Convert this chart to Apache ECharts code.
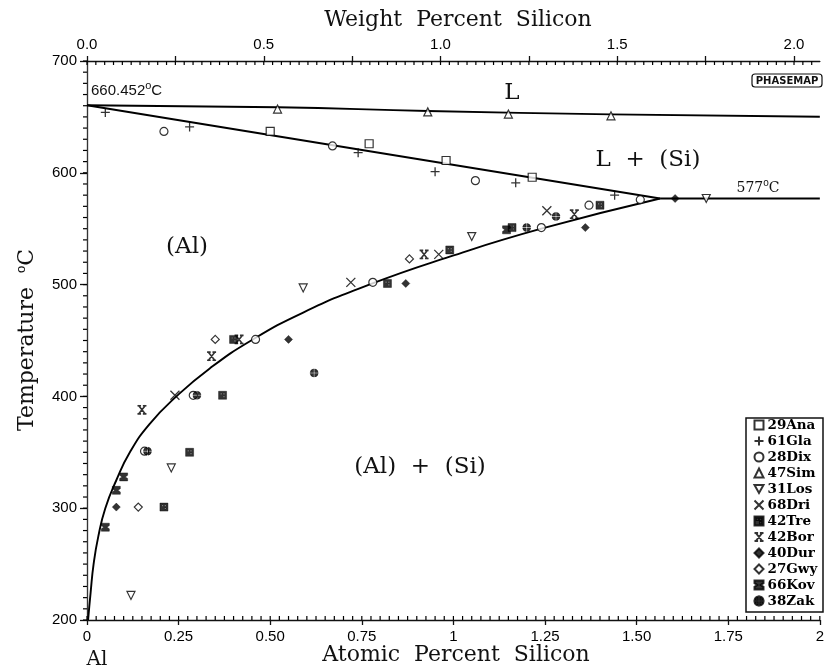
<!DOCTYPE html>
<html>
<head>
<meta charset="utf-8">
<script src="https://cdn.jsdelivr.net/npm/echarts@6/dist/echarts.min.js"></script>
<style>
  html, body { margin: 0; padding: 0; background: #fff; }
  #chart { width: 827px; height: 667px; }
</style>
</head>
<body>
<div id="chart"></div>
<script>
// phase boundaries, [at.% Si, T in C]
const liquidusTop = [[0, 660.452], [0.52, 658.6], [0.93, 655.3], [1.43, 652.3], [2, 650.2]];
const liquidusLow = [[0, 660.452], [1.564, 577]];
const eutectic = [[1.564, 577], [2, 577]];
const solvus = [[0.003, 200], [0.01, 225], [0.018, 250], [0.031, 275], [0.05, 300], [0.08, 325],
  [0.117, 350], [0.17, 375], [0.244, 400], [0.335, 425], [0.448, 450], [0.59, 475],
  [0.77, 500], [0.99, 525], [1.24, 550], [1.564, 577]];

// measurements
const ana29 = [[0.50, 637], [0.77, 626], [0.98, 611], [1.215, 596]];
const gla61 = [[0.05, 654], [0.28, 641], [0.74, 618], [0.95, 601], [1.17, 591], [1.44, 580]];
const dix28 = [[0.21, 637], [0.67, 624], [1.06, 593], [0.29, 401], [0.157, 351], [0.46, 451],
  [0.78, 502], [1.24, 551], [1.37, 571], [1.51, 576]];
const sim47 = [[0.52, 657], [0.93, 654.5], [1.15, 652.5], [1.43, 651]];
const los31 = [[0.12, 222], [0.23, 336], [0.59, 497], [1.05, 543], [1.69, 577]];
const dri68 = [[0.24, 401], [0.72, 502], [0.96, 527], [1.255, 566]];
const tre42 = [[0.21, 301], [0.28, 350], [0.37, 401], [0.40, 451], [0.82, 501], [0.99, 531],
  [1.16, 551], [1.40, 571]];
const bor42 = [[0.15, 388], [0.34, 436], [0.415, 451], [0.92, 527], [1.33, 563]];
const dur40 = [[0.08, 301], [0.55, 451], [0.87, 501], [1.36, 551], [1.605, 577]];
const gwy27 = [[0.14, 301], [0.35, 451], [0.88, 523]];
const kov66 = [[0.05, 283], [0.08, 316], [0.10, 328], [1.145, 549]];
const zak38 = [[0.165, 351], [0.30, 401], [0.62, 421], [1.20, 551], [1.28, 561]];

const bottomLabels = { 0: '0', 0.25: '0.25', 0.5: '0.50', 0.75: '0.75', 1: '1', 1.25: '1.25', 1.5: '1.50', 1.75: '1.75', 2: '2' };

const serif = '"DejaVu Serif", serif';
const sans = '"Liberation Sans", Arial, sans-serif';

// fine tick positions (axis decoration only)
const atTicks = [], wtTicks = [], tTicks = [];
for (let i = 0; i <= 80; i++) atTicks.push([i * 0.025, 200]);
for (let i = 0; i <= 82; i++) wtTicks.push([i * 0.025, 700]);
for (let i = 0; i <= 50; i++) tTicks.push([0, 200 + i * 10]);

const chart = echarts.init(document.getElementById('chart'));

const open = { color: '#fff', borderColor: '#000', borderWidth: 1.2 };
const solid = { color: '#000', borderColor: '#000', borderWidth: 0.5 };
const stroke = { color: 'none', borderColor: '#000', borderWidth: 1.3 };

function pts(name, data, symbol, style, size) {
  return {
    name: name, type: 'scatter', data: data, symbol: symbol,
    symbolSize: size || 8, itemStyle: style, z: 5,
    xAxisIndex: 0, yAxisIndex: 0
  };
}

function curve(data, smooth) {
  return {
    type: 'line', data: data, showSymbol: false, smooth: smooth || false,
    lineStyle: { color: '#000', width: 1.9 }, silent: true, z: 3,
    xAxisIndex: 0, yAxisIndex: 0
  };
}

// short tick strokes placed through the axis scales
function ticks(data, xAxisIndex, dx, dy) {
  return {
    type: 'custom', data: data, xAxisIndex: xAxisIndex, yAxisIndex: 0, silent: true, clip: false, z: 2,
    renderItem: (params, api) => {
      const p = api.coord([api.value(0), api.value(1)]);
      return {
        type: 'line',
        shape: { x1: p[0], y1: p[1], x2: p[0] + dx, y2: p[1] + dy },
        style: { stroke: '#000', lineWidth: 1.2 }
      };
    }
  };
}

const labelTxt = (text, x, y, font, align) => ({
  type: 'text', x: x, y: y,
  style: { text: text, font: font, fill: '#111', align: align || 'center', verticalAlign: 'middle' }
});

const supRich = (size) => ({
  s: { fontSize: size, fontFamily: sans, padding: [0, 0, size - 1, 0], fill: '#111' }
});

const option = {
  animation: false,
  backgroundColor: '#fff',
  grid: { left: 87, right: 1, top: 61, bottom: 47 },
  xAxis: [
    {
      type: 'value', position: 'bottom', min: 0, max: 2, interval: 0.25,
      axisLine: { lineStyle: { color: '#111', width: 1.3 } },
      axisTick: { inside: false, length: 5, lineStyle: { color: '#111', width: 1.3 } },
      axisLabel: {
        margin: 9, color: '#000', fontSize: 15, fontFamily: sans,
        formatter: v => bottomLabels[v] !== undefined ? bottomLabels[v] : ''
      },
      splitLine: { show: false }
    },
    {
      type: 'value', position: 'top', min: 0, max: 2.073, interval: 0.25,
      axisLine: { lineStyle: { color: '#111', width: 1.3 } },
      axisTick: { inside: false, length: 5, lineStyle: { color: '#111', width: 1.3 } },
      axisLabel: {
        margin: 9, color: '#000', fontSize: 15, fontFamily: sans, showMaxLabel: false,
        formatter: v => Math.abs(v * 2 - Math.round(v * 2)) < 1e-6 ? v.toFixed(1) : ''
      },
      splitLine: { show: false }
    }
  ],
  yAxis: [
    {
      type: 'value', position: 'left', min: 200, max: 700, interval: 100,
      axisLine: { show: true, lineStyle: { color: '#111', width: 1.3 } },
      axisTick: { show: true, length: 7, lineStyle: { color: '#111', width: 1.3 } },
      axisLabel: { margin: 10, color: '#000', fontSize: 15, fontFamily: sans },
      splitLine: { show: false }
    },
    {
      type: 'value', position: 'right', min: 200, max: 700,
      axisLine: { show: true, lineStyle: { color: '#333', width: 1 } },
      axisTick: { show: false }, axisLabel: { show: false }, splitLine: { show: false }
    }
  ],
  legend: {
    orient: 'vertical', left: 752, top: 418, padding: 0,
    itemWidth: 9, itemHeight: 9, itemGap: 2,
    textStyle: { fontFamily: serif, fontWeight: 'bold', fontSize: 13.5, color: '#000', padding: [0, 0, 0, -1] },
    data: ['29Ana', '61Gla', '28Dix', '47Sim', '31Los', '68Dri', '42Tre', '42Bor', '40Dur', '27Gwy', '66Kov', '38Zak']
  },
  series: [
    ticks(atTicks, 0, 0, -4),
    ticks(wtTicks, 1, 0, 4),
    ticks(tTicks, 0, -4, 0),
    curve(liquidusTop, true),
    curve(liquidusLow),
    curve(eutectic),
    curve(solvus, true),
    pts('29Ana', ana29, 'rect', open),
    pts('61Gla', gla61, 'path://M5 0 L5 10 M0 5 L10 5', stroke, 9),
    pts('28Dix', dix28, 'circle', open),
    pts('47Sim', sim47, 'triangle', open),
    pts('31Los', los31, 'path://M0 0 L10 0 L5 9 Z', open),
    pts('68Dri', dri68, 'path://M0 0 L10 10 M10 0 L0 10', stroke, 9),
    pts('42Tre', tre42, 'path://M0 0 L10 0 L10 10 L0 10 Z M2.5 2.5 L2.5 4 L4 4 L4 2.5 Z M6 6 L6 7.5 L7.5 7.5 L7.5 6 Z M6 2.5 L6 4 L7.5 4 L7.5 2.5 Z', solid),
    pts('42Bor', bor42, 'path://M1 0 L9 10 M9 0 L1 10 M0 0.5 L4 0.5 M6 0.5 L10 0.5 M0 9.5 L4 9.5 M6 9.5 L10 9.5', { color: 'none', borderColor: '#000', borderWidth: 1.6 }, 9),
    pts('40Dur', dur40, 'diamond', solid),
    pts('27Gwy', gwy27, 'diamond', open),
    pts('66Kov', kov66, 'path://M0 0 L10 0 L10 3 L7 5 L10 7 L10 10 L0 10 L0 7 L3 5 L0 3 Z', solid),
    pts('38Zak', zak38, 'path://M4.4 4.4 L4.4 0.04 A5 5 0 0 0 0.04 4.4 Z M5.6 4.4 L9.96 4.4 A5 5 0 0 0 5.6 0.04 Z M5.6 5.6 L5.6 9.96 A5 5 0 0 0 9.96 5.6 Z M4.4 5.6 L0.04 5.6 A5 5 0 0 0 4.4 9.96 Z', solid)
  ],
  graphic: [
    labelTxt('Weight  Percent  Silicon', 458, 20, '22px ' + serif),
    labelTxt('Atomic  Percent  Silicon', 456, 655, '22px ' + serif),
    labelTxt('Al', 97, 660, '20px ' + serif),
    {
      type: 'text', x: 27, y: 340, rotation: Math.PI / 2,
      style: {
        text: 'Temperature  {s|o}C', font: '22px ' + serif, fill: '#111',
        align: 'center', verticalAlign: 'middle', rich: supRich(13)
      }
    },
    {
      type: 'text', x: 91, y: 91,
      style: {
        text: '660.452{s|o}C', font: '15px ' + sans, fill: '#111',
        align: 'left', verticalAlign: 'middle', rich: supRich(11)
      }
    },
    {
      type: 'text', x: 758, y: 188,
      style: {
        text: '577{s|o}C', font: '14px ' + serif, fill: '#111',
        align: 'center', verticalAlign: 'middle', rich: supRich(10)
      }
    },
    labelTxt('L', 512, 93, '23px ' + serif),
    labelTxt('L  +  (Si)', 648, 160, '23px ' + serif),
    labelTxt('(Al)', 187, 247, '23px ' + serif),
    labelTxt('(Al)  +  (Si)', 420, 467, '23px ' + serif),
    {
      type: 'rect', shape: { x: 752, y: 74, width: 70, height: 13, r: 3 },
      style: { fill: 'none', stroke: '#111', lineWidth: 1.2 }
    },
    labelTxt('PHASEMAP', 787, 81, 'bold 10px "DejaVu Sans", sans-serif'),
    {
      type: 'rect', shape: { x: 746, y: 418, width: 77, height: 194 },
      style: { fill: 'none', stroke: '#111', lineWidth: 1.5 }, z: 10
    }
  ]
};

chart.setOption(option);
</script>
</body>
</html>
